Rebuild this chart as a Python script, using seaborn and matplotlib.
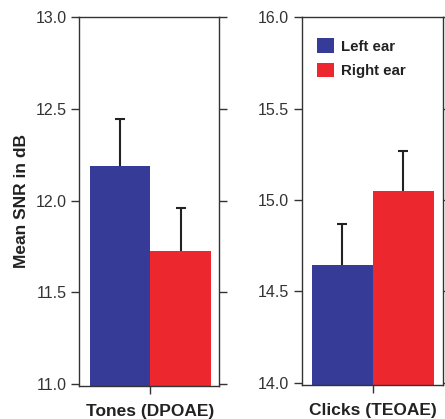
import numpy as np
import pandas as pd
import matplotlib
matplotlib.use("Agg")
import matplotlib.pyplot as plt
import seaborn as sns

conditions = ["Tones (DPOAE)", "Clicks (TEOAE)"]
ears = ["Left ear", "Right ear"]
tones_mean = [12.19, 11.725]
tones_err = [0.255, 0.237]
clicks_mean = [14.645, 15.05]
clicks_err = [0.222, 0.218]
ylims = [(10.992, 13.0), (13.987, 16.0)]
yticks = [[11.0, 11.5, 12.0, 12.5, 13.0], [14.0, 14.5, 15.0, 15.5, 16.0]]

palette = {"Left ear": "#353b96", "Right ear": "#ec282e"}
ink = "#333333"

sns.set_style("ticks")
plt.rcParams["font.family"] = ["Liberation Sans", "DejaVu Sans"]

df = pd.DataFrame({
    "condition": [conditions[0]] * 2 + [conditions[1]] * 2,
    "ear": ears * 2,
    "snr": tones_mean + clicks_mean,
    "err": tones_err + clicks_err,
})

fig = plt.figure(figsize=(4.45, 4.19), dpi=100)
ax1 = fig.add_axes([0.1775, 0.0795, 0.3146, 0.8792])
ax2 = fig.add_axes([0.678, 0.0811, 0.3169, 0.8776])
xlims = [(-0.59, 0.566), (-0.585, 0.574)]

for i, (ax, cond) in enumerate(zip([ax1, ax2], conditions)):
    sub = df[df.condition == cond]
    sns.barplot(data=sub, x="condition", y="snr", hue="ear", palette=palette,
                width=1.0, errorbar=None, ax=ax, saturation=1, legend=(i == 1),
                linewidth=0, edgecolor="none", zorder=2)
    bars = [p for p in ax.patches if p.get_height() > 0][:2]
    xs = [b.get_x() + b.get_width() / 2 for b in bars]
    # symmetric bars drawn behind the fill, so only the upper half shows
    ax.errorbar(xs, sub.snr.values, yerr=sub.err.values,
                fmt="none", ecolor="#222222", elinewidth=1.5, capsize=3.5,
                capthick=1.5, zorder=1)
    ax.set_ylim(*ylims[i])
    ax.set_xlim(*xlims[i])
    ax.set_yticks(yticks[i])
    ax.set_yticklabels([f"{t:.1f}" for t in yticks[i]])
    ax.set_xlabel("")
    ax.set_ylabel("")
    ax.tick_params(axis="y", left=True, right=True, direction="out", length=6,
                   width=1, color=ink, labelsize=11.5, labelcolor=ink, pad=3)
    ax.tick_params(axis="x", bottom=True, direction="out", length=6, width=1,
                   color=ink, labelsize=12.5, labelcolor="#222222", pad=7)
    for lbl in ax.get_xticklabels():
        lbl.set_fontweight("bold")
    for s in ax.spines.values():
        s.set_visible(True)
        s.set_color(ink)
        s.set_linewidth(1)
        s.set_zorder(3)

ax1.set_ylabel("Mean SNR in dB", fontsize=12.5, fontweight="bold", color="#222222")
ax1.yaxis.set_label_coords(-0.36, 0.5)

leg = ax2.legend(loc="upper left", bbox_to_anchor=(0.106, 0.943), frameon=False,
                 borderaxespad=0, borderpad=0, handlelength=1.13, handleheight=1.13,
                 handletextpad=0.47, labelspacing=0.6,
                 prop={"size": 10.8, "weight": "bold"})
for t in leg.get_texts():
    t.set_color("#222222")

fig.savefig("out.png", dpi=100)
